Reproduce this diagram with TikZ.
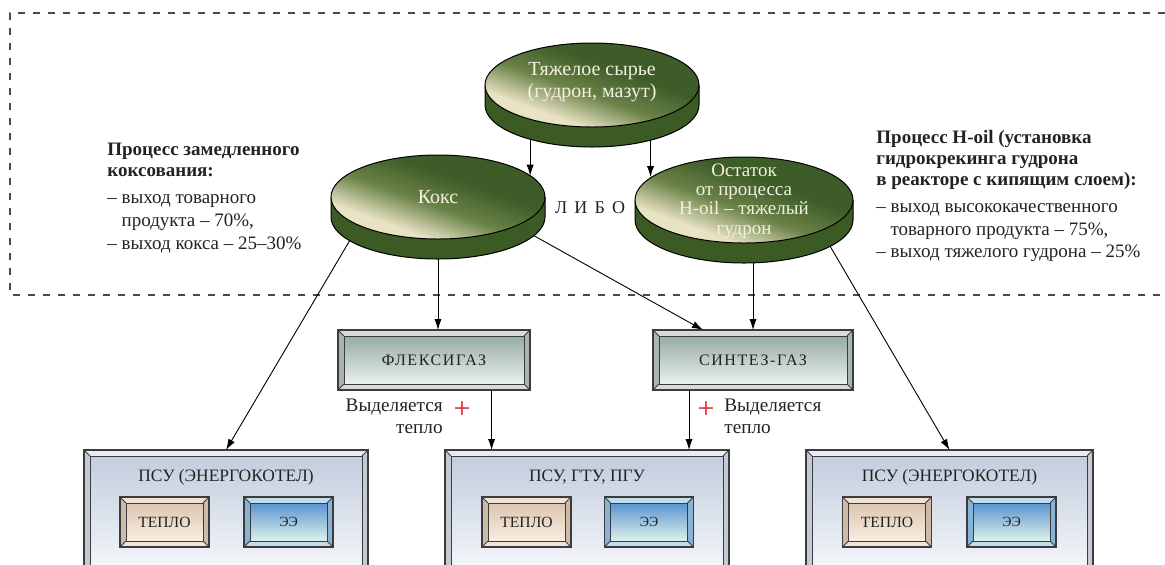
\documentclass[tikz,border=0pt]{standalone}
\usepackage{fontspec}
\setmainfont{Liberation Serif}
\newfontfamily\spacedfont[LetterSpace=10]{Liberation Serif}
\newfontfamily\widefont[LetterSpace=40]{Liberation Serif}
\usetikzlibrary{arrows.meta,backgrounds,calc,shapes.geometric}
\definecolor{sidegreen}{HTML}{3B5A24}
\definecolor{facedark}{HTML}{3E5C28}
\definecolor{facemid}{HTML}{6A8247}
\definecolor{facelight}{HTML}{E9E3C5}
\definecolor{facetext}{HTML}{F3F0E2}
\definecolor{gasframe}{HTML}{D3DCD8}
\definecolor{gasside}{HTML}{A9B5B1}
\definecolor{gastop}{HTML}{98ABA5}
\definecolor{gasbot}{HTML}{E9F1EC}
\definecolor{psuframe}{HTML}{E8ECF1}
\definecolor{psuside}{HTML}{C4CAD3}
\definecolor{psutop}{HTML}{C2CDDE}
\definecolor{psubot}{HTML}{FFFFFF}
\definecolor{heatframe}{HTML}{EEE3D6}
\definecolor{heatside}{HTML}{CDBBA8}
\definecolor{heattop}{HTML}{DCC5B0}
\definecolor{heatbot}{HTML}{F8EEE2}
\definecolor{eeframe}{HTML}{BFDDEE}
\definecolor{eeside}{HTML}{86B3D6}
\definecolor{eetop}{HTML}{5A94D2}
\definecolor{eebot}{HTML}{DFF2EA}
\definecolor{plusred}{HTML}{E41E26}
\definecolor{dashgray}{HTML}{4A4A4A}
\definecolor{edgegray}{HTML}{3C3C3C}
\definecolor{labelgray}{HTML}{222222}

\pgfdeclareverticalshading{discshade}{100bp}{color(0bp)=(facelight); color(32bp)=(facelight); color(46bp)=(facemid); color(60bp)=(facedark); color(100bp)=(facedark)}

% #1 node, #2 inset (px), #3 frame, #4 frame sides, #5 inner top, #6 inner bottom
\newcommand\bevelbox[6]{%
  \fill[#3] (#1.north west) rectangle (#1.south east);
  \fill[#4] (#1.north west) -- ([shift={(#2,#2)}]#1.north west) -- ([shift={(#2,-#2)}]#1.south west) -- (#1.south west) -- cycle;
  \fill[#4] (#1.north east) -- ([shift={(-#2,#2)}]#1.north east) -- ([shift={(-#2,-#2)}]#1.south east) -- (#1.south east) -- cycle;
  \shade[top color=#5, bottom color=#6] ([shift={(#2,#2)}]#1.north west) rectangle ([shift={(-#2,-#2)}]#1.south east);
  \draw[edgegray, line width=0.6pt] (#1.north west) rectangle (#1.south east);
  \draw[edgegray, line width=0.5pt] ([shift={(#2,#2)}]#1.north west) rectangle ([shift={(-#2,-#2)}]#1.south east);
  \draw[edgegray, line width=0.4pt] (#1.north west) -- ([shift={(#2,#2)}]#1.north west)
     (#1.north east) -- ([shift={(-#2,#2)}]#1.north east)
     (#1.south west) -- ([shift={(#2,-#2)}]#1.south west)
     (#1.south east) -- ([shift={(-#2,-#2)}]#1.south east);
}
% #1 face node, #2 rx (px), #3 ry (px)
\newcommand\discside[3]{%
  \fill[sidegreen] (#1.west) -- (#1b.west) arc[start angle=180, end angle=0, x radius=#2, y radius=#3] -- (#1.east) -- cycle;
  \draw[black, line width=0.5pt] (#1.west) -- (#1b.west) arc[start angle=180, end angle=0, x radius=#2, y radius=#3] -- (#1.east);
}

\begin{document}
\begin{tikzpicture}[x=0.5pt, y=-0.5pt,
  discface/.style={ellipse, draw=black, line width=0.5pt, inner sep=0pt, outer sep=0pt,
    shade, shading=discshade, shading angle=-20},
  discbase/.style={ellipse, inner sep=0pt, outer sep=0pt},
  disclabel/.style={text=facetext, align=center, inner sep=0pt, font=\fontsize{10}{11}\selectfont},
  gasbox/.style={rectangle, inner sep=0pt, outer sep=0pt, minimum height=30pt, text=labelgray,
    font=\spacedfont\fontsize{8}{9}\selectfont},
  psubox/.style={rectangle, inner sep=0pt, outer sep=0pt, minimum width=142pt, minimum height=75pt},
  psutitle/.style={inner sep=0pt, text=labelgray, font=\fontsize{8.7}{10}\selectfont},
  smallbox/.style={rectangle, inner sep=0pt, outer sep=0pt, minimum width=44.5pt, minimum height=25pt, text=labelgray},
  infotext/.style={align=left, inner sep=0pt, text=labelgray, font=\fontsize{9.5}{10.5}\selectfont},
  heattext/.style={inner sep=0pt, text=labelgray, font=\fontsize{9.6}{11}\selectfont},
  plussign/.style={inner sep=0pt, text=plusred, font=\fontsize{15}{15}\selectfont},
  arrow/.style={-{Latex[length=5.5pt,width=3.6pt]}, line width=0.45pt, black}
]
\useasboundingbox (0,0) rectangle (1165,564);

% discs
\node[discbase, minimum width=107pt, minimum height=42pt] (topdiscb) at (592,105) {};
\node[discface, minimum width=107pt, minimum height=42pt] (topdisc) at (592,85) {};
\node[disclabel] (topdisctext) at (592,82) {Тяжелое сырье\\(гудрон, мазут)};

\node[discbase, minimum width=107pt, minimum height=42pt] (kokb) at (438,217) {};
\node[discface, minimum width=107pt, minimum height=42pt] (kok) at (438,197) {};
\node[disclabel] (koktext) at (438,197) {Кокс};

\node[discbase, minimum width=109pt, minimum height=43pt] (ostb) at (744,220) {};
\node[discface, minimum width=109pt, minimum height=43pt] (ost) at (744,200) {};
\node[disclabel, font=\fontsize{9.5}{9.6}\selectfont] (osttext) at (744,201) {Остаток\\от процесса\\H-oil – тяжелый\\гудрон};

\node[inner sep=0pt, text=labelgray, font=\widefont\fontsize{9}{10}\selectfont] (libo) at (590,208) {ЛИБО};

% side texts
\node[infotext, anchor=north west] (coking) at (107,143) {\textbf{Процесс замедленного}\\
\textbf{коксования:}\\[3pt]
– выход товарного\\[0.8pt]
\phantom{– }продукта – 70\%,\\[0.8pt]
– выход кокса – 25–30\%};

\node[infotext, anchor=north west] (hoil) at (876,130) {\textbf{Процесс H-oil (установка}\\
\textbf{гидрокрекинга гудрона}\\
\textbf{в реакторе с кипящим слоем):}\\[3pt]
– выход высококачественного\\[0.8pt]
\phantom{– }товарного продукта – 75\%,\\[0.8pt]
– выход тяжелого гудрона – 25\%};

% gas boxes
\node[gasbox, minimum width=96pt] (flex) at (434,360) {ФЛЕКСИГАЗ};
\node[gasbox, minimum width=100pt] (synth) at (753,360) {СИНТЕЗ-ГАЗ};

% heat labels
\node[heattext, anchor=north east, align=right] (heatL) at (443,399) {Выделяется\\тепло};
\node[plussign] (plusL) at (462,410) {+};
\node[heattext, anchor=north west, align=left] (heatR) at (724,399) {Выделяется\\тепло};
\node[plussign] (plusR) at (706,410) {+};

% consumer boxes
\node[psubox] (psu1) at (226,525) {};
\node[psubox] (psu2) at (587,525) {};
\node[psubox, minimum width=143.5pt] (psu3) at (949.5,525) {};
\node[psutitle] (psu1t) at (226,477) {ПСУ (ЭНЕРГОКОТЕЛ)};
\node[psutitle] (psu2t) at (587,477) {ПСУ, ГТУ, ПГУ};
\node[psutitle] (psu3t) at (949.5,477) {ПСУ (ЭНЕРГОКОТЕЛ)};

\node[smallbox, font=\fontsize{7.8}{9}\selectfont] (heat1) at (164.5,522) {ТЕПЛО};
\node[smallbox, font=\fontsize{7}{9}\selectfont] (ee1) at (288.5,522) {ЭЭ};
\node[smallbox, font=\fontsize{7.8}{9}\selectfont] (heat2) at (526.5,522) {ТЕПЛО};
\node[smallbox, font=\fontsize{7}{9}\selectfont] (ee2) at (649,522) {ЭЭ};
\node[smallbox, font=\fontsize{7.8}{9}\selectfont] (heat3) at (887,522) {ТЕПЛО};
\node[smallbox, font=\fontsize{7}{9}\selectfont] (ee3) at (1011.5,522) {ЭЭ};

% background drawings
\begin{scope}[on background layer]
  \draw[dashgray, line width=0.6pt, dash pattern=on 3.5pt off 4pt] (1165,13) -- (10,13) -- (10,295) -- (1165,295);
  \discside{topdisc}{107}{42}
  \discside{kok}{107}{42}
  \discside{ost}{109}{43}
  \bevelbox{flex}{6}{gasframe}{gasside}{gastop}{gasbot}
  \bevelbox{synth}{6}{gasframe}{gasside}{gastop}{gasbot}
  \bevelbox{psu1}{6}{psuframe}{psuside}{psutop}{psubot}
  \bevelbox{psu2}{6}{psuframe}{psuside}{psutop}{psubot}
  \bevelbox{psu3}{6}{psuframe}{psuside}{psutop}{psubot}
  \bevelbox{heat1}{6}{heatframe}{heatside}{heattop}{heatbot}
  \bevelbox{heat2}{6}{heatframe}{heatside}{heattop}{heatbot}
  \bevelbox{heat3}{6}{heatframe}{heatside}{heattop}{heatbot}
  \bevelbox{ee1}{6}{eeframe}{eeside}{eetop}{eebot}
  \bevelbox{ee2}{6}{eeframe}{eeside}{eetop}{eebot}
  \bevelbox{ee3}{6}{eeframe}{eeside}{eetop}{eebot}
\end{scope}

% connectors
\draw[arrow] (topdiscb.209) -- (topdiscb.209 |- kok.13);
\draw[arrow] (topdiscb.329) -- (topdiscb.329 |- ost.166);
\draw[arrow] (kokb.south) -- (kokb.south |- flex.north);
\draw[arrow] (kokb.349) -- ($(synth.north west)!0.25!(synth.north east)$);
\draw[arrow] (kokb.195) -- (psu1.north);
\draw[arrow] (ostb.south -| synth.north) -- (synth.north);
\draw[arrow] (ostb.343) -- (psu3.north);
\coordinate (flexout) at ($(flex.south west)!0.8!(flex.south east)$);
\coordinate (synout) at ($(synth.south west)!0.18!(synth.south east)$);
\draw[arrow] (flexout) -- (flexout |- psu2.north);
\draw[arrow] (synout) -- (synout |- psu2.north);
\end{tikzpicture}
\end{document}
